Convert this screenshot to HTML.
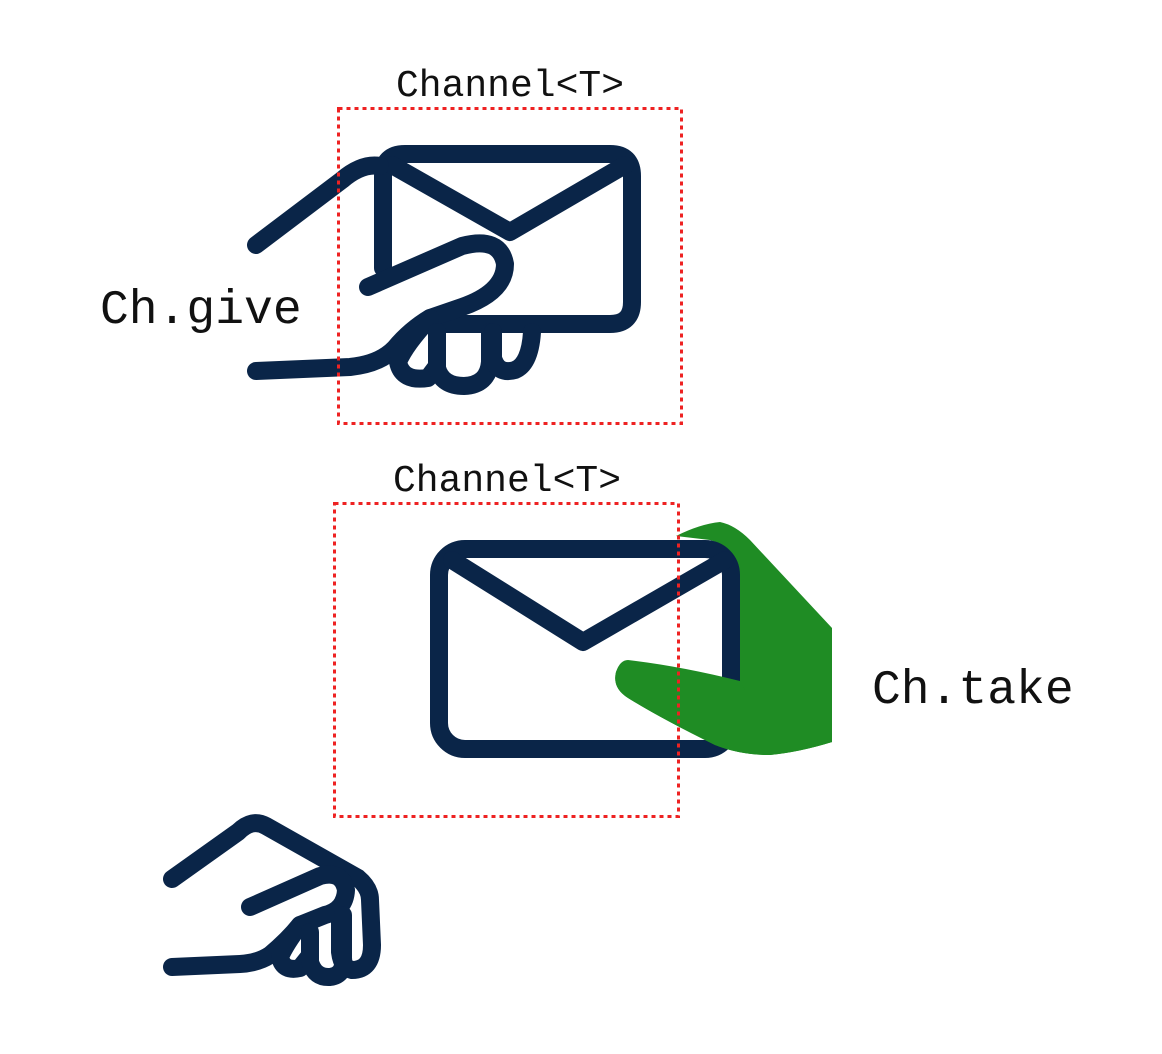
<!DOCTYPE html>
<html><head><style>
html,body{margin:0;padding:0;background:#fff;}
svg{display:block}
text{font-family:"Liberation Mono",monospace;fill:#111}
</style></head><body>
<svg width="1162" height="1054" viewBox="0 0 1162 1054" xmlns="http://www.w3.org/2000/svg">
<rect width="1162" height="1054" fill="#fff"/>
<text x="510" y="96" font-size="38" text-anchor="middle">Channel&lt;T&gt;</text>
<text x="507" y="491" font-size="38" text-anchor="middle">Channel&lt;T&gt;</text>
<text x="100" y="323" font-size="48">Ch.give</text>
<text x="872" y="703" font-size="48">Ch.take</text>

<path d="M676,536 Q700,524 720,522 Q735,525 750,540 L832,628 V742 Q810,748 790,752 Q760,758 735,745 L722,740 L731,560 Q728,545 710,540 Z" fill="#1f8c24"/>

<g fill="none" stroke="#0a2548" stroke-width="18" stroke-linecap="round" stroke-linejoin="round">
<path d="M383,268 V176 Q383,154 405,154 H610 Q632,154 632,176 V302 Q632,324 610,324 H435"/>
<path d="M392,165 L510,232 L625,165"/>
<path d="M256,245 L342,180 Q362,163 380,166"/>
<path d="M368,287 L462,246 Q500,236 505,264 Q505,292 462,307 L430,318 Q410,330 395,348 Q380,364 350,367 L256,371"/>
<path d="M430,318 Q405,345 398,362 Q402,382 428,378 L437,366"/>
<path d="M437,332 V368 Q442,386 464,386 Q488,385 490,362 V332"/>
<path d="M493,332 V358 Q498,375 515,370 Q530,364 532,332"/>
<rect x="439" y="549" width="292" height="200" rx="26"/>
<path d="M452,560 L583,642 L725,560"/>
<path d="M172,879 L238,832 Q252,818 266,826 L358,878 Q370,888 370,900 L372,945 Q372,970 352,970 Q342,968 340,952 V915"/>
<path d="M250,907 L320,876 Q342,870 346,890 Q345,910 325,915 L300,925 Q288,940 270,955 Q258,963 240,964 L172,967"/>
<path d="M300,925 Q285,945 280,957 Q283,972 300,968 L308,958"/>
<path d="M310,932 V962 Q315,978 330,977 Q345,975 343,958 V915"/>
</g>

<path d="M628,662 Q680,668 740,683 L745,690 L832,690 V742 Q800,752 770,755 Q740,755 715,745 Q660,718 628,698 Q612,688 616,672 Q620,662 628,662 Z" fill="#1f8c24"/>
<path d="M628,660 Q680,666 740,681 L745,690 L832,690 V742 Q800,752 770,755 Q740,755 715,745 Q660,718 628,698 Q612,688 616,672 Q620,660 628,660 Z" fill="#1f8c24"/>

<g fill="none" stroke="#ee2222" stroke-width="3" stroke-dasharray="4 4">
<rect x="338.5" y="108.5" width="343" height="315"/>
<rect x="334.5" y="503.5" width="344" height="313"/>
</g>
</svg>
</body></html>
